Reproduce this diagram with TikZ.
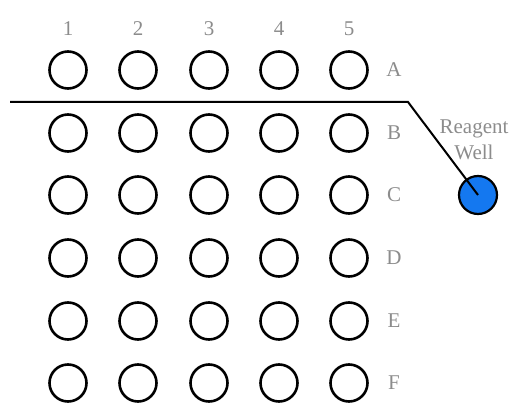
\documentclass[tikz,border=0pt]{standalone}
\usepackage{fontspec}
\setmainfont{Liberation Serif}
\begin{document}
\begin{tikzpicture}[x=1pt,y=-1pt,
  well/.style={circle,draw=black,line width=2.6pt,minimum size=37pt,inner sep=0pt},
  reagent/.style={circle,draw=black,line width=2.2pt,fill={rgb,255:red,20;green,120;blue,240},minimum size=38pt,inner sep=0pt},
  lbl/.style={text=black!45,font=\fontsize{21}{23}\selectfont,inner sep=0pt},
  conn/.style={line width=2pt,black}]
\useasboundingbox (0,0) rectangle (517,403);
\foreach \c/\x in {1/68,2/138,3/209,4/279,5/349}{
  \node[lbl] (col\c) at (\x,29) {\c};
}
\foreach \r/\y in {A/70,B/133,C/195,D/258,E/321,F/383}{
  \foreach \c/\x in {1/68,2/138,3/209,4/279,5/349}{
    \node[well] (w\r\c) at (\x,\y) {};
  }
  \node[lbl] (row\r) at (394,\y) {\r};
}
\node[reagent] (rw) at (478,195) {};
\node[lbl,align=center,font=\fontsize{21}{26}\selectfont] (rwl) at (474,140) {Reagent\\Well};
\coordinate (s) at (10,102);
\coordinate (k) at (408,102);
\draw[conn] (s) -- (k) -- (rw.center);
\end{tikzpicture}
\end{document}
